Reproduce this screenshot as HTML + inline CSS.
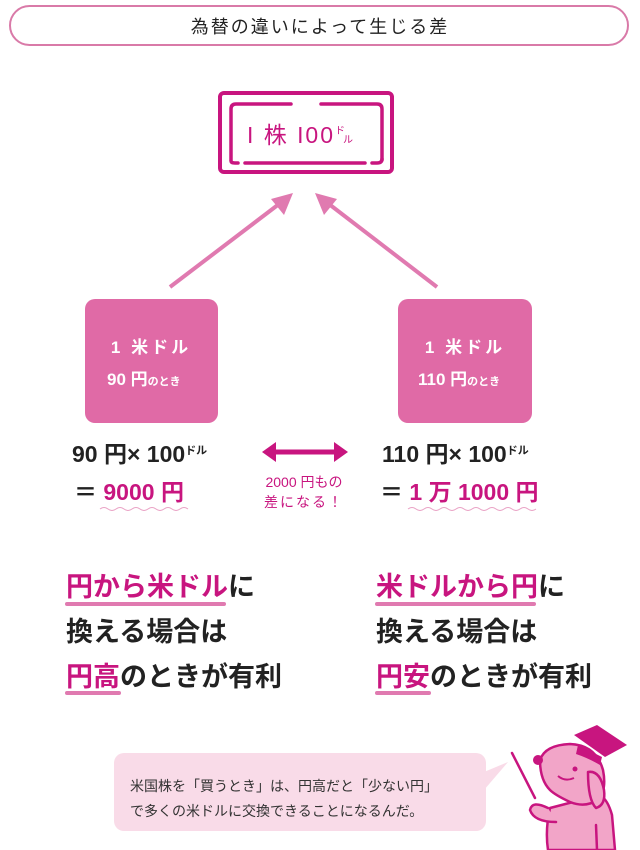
<!DOCTYPE html>
<html><head><meta charset="utf-8"><style>
html,body{margin:0;padding:0;background:#fff;width:640px;height:850px;overflow:hidden}
svg{display:block}
text{font-family:"Liberation Sans","Noto Sans CJK JP",sans-serif}
</style></head><body>
<svg width="640" height="850" viewBox="0 0 640 850">
<!-- title -->
<rect x="10" y="6" width="618" height="39" rx="19.5" fill="#fff" stroke="#d97aa8" stroke-width="2"/>
<text x="320" y="33" font-size="18" text-anchor="middle" fill="#222" letter-spacing="2">為替の違いによって生じる差</text>
<!-- top box -->
<rect x="220" y="93" width="172" height="79" rx="4" fill="#fff" stroke="#c8157f" stroke-width="4"/>
<path d="M291,104 H236 Q231,104 231,109 V160" fill="none" stroke="#c8157f" stroke-width="3.5" stroke-linecap="round"/>
<path d="M321,104 H377 Q382,104 382,109 V160" fill="none" stroke="#c8157f" stroke-width="3.5" stroke-linecap="round"/>
<path d="M231,161 Q231,163 235,163 H238" fill="none" stroke="#c8157f" stroke-width="3.5" stroke-linecap="round"/>
<path d="M245,163 H365" fill="none" stroke="#c8157f" stroke-width="3.5" stroke-linecap="round"/>
<path d="M372,163 H377 Q382,163 382,159" fill="none" stroke="#c8157f" stroke-width="3.5" stroke-linecap="round"/>
<text x="247" y="143" font-size="23" fill="#c8157f" textLength="86" lengthAdjust="spacing">I 株 I00</text>
<text x="335" y="134" font-size="10" fill="#c8157f">ド</text>
<text x="343" y="143" font-size="10" fill="#c8157f">ル</text>
<!-- arrows -->
<line x1="170" y1="287" x2="283" y2="201" stroke="#e07ab0" stroke-width="4"/>
<path d="M293,193 L271,199 L284,215 Z" fill="#e07ab0"/>
<line x1="437" y1="287" x2="325" y2="201" stroke="#e07ab0" stroke-width="4"/>
<path d="M315,193 L324,215 L337,199 Z" fill="#e07ab0"/>
<!-- pink boxes -->
<rect x="85" y="299" width="133" height="124" rx="10" fill="#e06aa6"/>
<rect x="398" y="299" width="134" height="124" rx="10" fill="#e06aa6"/>
<g fill="#fff" font-size="17" text-anchor="middle" font-weight="bold">
<text x="151" y="353" letter-spacing="3">1 米ドル</text>
<text x="465" y="353" letter-spacing="3">1 米ドル</text>
</g>
<g fill="#fff" font-weight="bold">
<text x="107" y="385" font-size="17">90 円<tspan font-size="11">のとき</tspan></text>
<text x="418" y="385" font-size="17">110 円<tspan font-size="11">のとき</tspan></text>
</g>
<!-- calc -->
<g font-weight="bold" font-size="23" fill="#222">
<text x="72" y="462">90 円× 100<tspan font-size="11" dy="-8">ドル</tspan></text>
<text x="382" y="462">110 円× 100<tspan font-size="11" dy="-8">ドル</tspan></text>
<text x="74" y="500">＝ <tspan fill="#c8157f">9000 円</tspan></text>
<text x="380" y="500">＝ <tspan fill="#c8157f">1 万 1000 円</tspan></text>
</g>
<path d="M100,509 q4,-3 8,0 t8,0 t8,0 t8,0 t8,0 t8,0 t8,0 t8,0 t8,0 t8,0 t8,0" fill="none" stroke="#e9a0c4" stroke-width="1"/>
<path d="M408,509 q4,-3 8,0 t8,0 t8,0 t8,0 t8,0 t8,0 t8,0 t8,0 t8,0 t8,0 t8,0 t8,0 t8,0 t8,0 t8,0 t8,0" fill="none" stroke="#e9a0c4" stroke-width="1"/>
<!-- double arrow -->
<line x1="272" y1="452" x2="338" y2="452" stroke="#c8157f" stroke-width="5"/>
<path d="M262,452 L276,442 L276,462 Z" fill="#c8157f"/>
<path d="M348,452 L334,442 L334,462 Z" fill="#c8157f"/>
<text x="304" y="487" font-size="14" fill="#c8157f" text-anchor="middle">2000 円もの</text>
<text x="304" y="507" font-size="14" fill="#c8157f" text-anchor="middle" letter-spacing="2">差になる！</text>
<!-- big statements -->
<g font-size="27" font-weight="bold" fill="#222">
<text x="66" y="596"><tspan fill="#c8157f">円から米ドル</tspan>に</text>
<text x="66" y="641">換える場合は</text>
<text x="66" y="686"><tspan fill="#c8157f">円高</tspan>のときが有利</text>
<text x="376" y="596"><tspan fill="#c8157f">米ドルから円</tspan>に</text>
<text x="376" y="641">換える場合は</text>
<text x="376" y="686"><tspan fill="#c8157f">円安</tspan>のときが有利</text>
</g>
<g stroke="#e07ab0" stroke-width="4" stroke-linecap="round">
<line x1="67" y1="604" x2="224" y2="604"/>
<line x1="67" y1="693" x2="119" y2="693"/>
<line x1="377" y1="604" x2="534" y2="604"/>
<line x1="377" y1="693" x2="429" y2="693"/>
</g>
<!-- bubble -->
<rect x="114" y="753" width="372" height="78" rx="10" fill="#f9dbe8"/>
<path d="M484,772 L508,762 L484,790 Z" fill="#f9dbe8"/>
<g font-size="14" fill="#333">
<text x="130" y="791">米国株を「買うとき」は、円高だと「少ない円」</text>
<text x="130" y="816">で多くの米ドルに交換できることになるんだ。</text>
</g>
<!-- dog -->
<g stroke="#c8157f" stroke-width="2.5" fill="#f2a5c8" stroke-linejoin="round" stroke-linecap="round">
<line x1="512" y1="753" x2="535" y2="798" fill="none"/>
<path d="M550,808 Q545,830 548,850 L615,850 L612,815 Q608,800 600,795 Z"/>
<path d="M540,760 Q545,745 570,744 Q596,745 603,770 Q607,790 598,800 Q585,808 570,802 Q555,795 550,790 Q540,780 540,760 Z"/>
<path d="M548,808 Q532,800 530,810 Q534,822 556,822" />
<path d="M588,772 Q600,770 604,790 Q606,805 596,808 Q588,800 588,772 Z"/>
<line x1="596" y1="825" x2="597" y2="850" fill="none"/>
</g>
<circle cx="538" cy="760" r="5" fill="#c8157f"/>
<circle cx="575" cy="769" r="2.5" fill="#c8157f"/>
<path d="M558,776 Q565,782 574,778" fill="none" stroke="#c8157f" stroke-width="2"/>
<path d="M574,735 L597,725 L627,745 L605,757 Z" fill="#c8157f"/>
<path d="M578,745 L602,757 L600,765 Q588,758 576,754 Z" fill="#c8157f"/>
</svg>
</body></html>
